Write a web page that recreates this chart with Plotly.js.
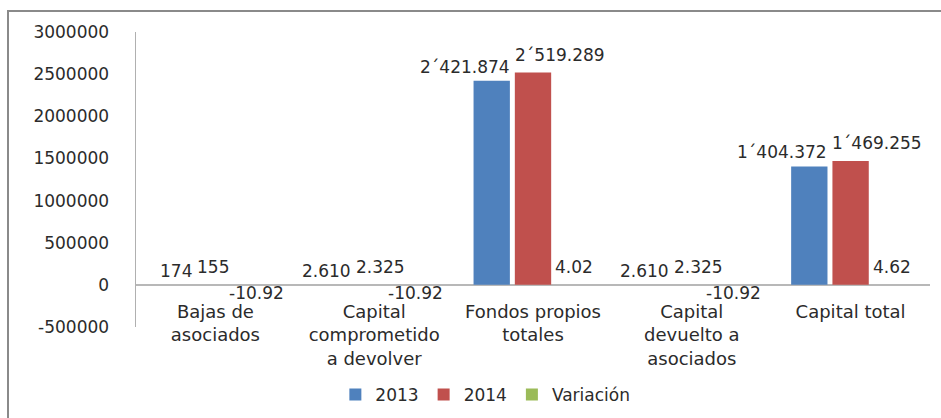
<!DOCTYPE html>
<html>
<head>
<meta charset="utf-8">
<script src="https://cdn.plot.ly/plotly-3.0.1.min.js"></script>
<style>
  html, body { margin: 0; padding: 0; background: #fff; }
  #wrap { position: relative; width: 941px; height: 418px; }
  #chart { width: 941px; height: 418px; }
  #frame { position: absolute; left: 7px; top: 10px; right: 0; bottom: -4px;
           border-left: 2px solid #8a8a8a; border-top: 2px solid #8a8a8a; pointer-events: none; }
</style>
</head>
<body>
<div id="wrap">
  <div id="chart"></div>
  <div id="frame"></div>
</div>
<script>
const categories = [
  "Bajas de<br>asociados",
  "Capital<br>comprometido<br>a devolver",
  "Fondos propios<br>totales",
  "Capital<br>devuelto a<br>asociados",
  "Capital total"
];
const values2013 = [174, 2610, 2421874, 2610, 1404372];
const values2014 = [155, 2325, 2519289, 2325, 1469255];
const valuesVar  = [-10.92, -10.92, 4.02, -10.92, 4.62];
const labels2013 = ["174", "2.610", "2´421.874", "2.610", "1´404.372"];
const labels2014 = ["155", "2.325", "2´519.289", "2.325", "1´469.255"];
const labelsVar  = ["-10.92", "-10.92", "4.02", "-10.92", "4.62"];
const yTickVals = [-500000, 0, 500000, 1000000, 1500000, 2000000, 2500000, 3000000];
const yTickText = ["-500000", "0", "500000", "1000000", "1500000", "2000000", "2500000", "3000000"];
const yRange = [-500000, 3000000];

const FONT = "DejaVu Sans, Verdana, sans-serif";
const TXT = "#2b2b2b";
const BARGAP = 0.22;
const BARGROUPGAP = 0.12;
const ML = 136, MR = 11;

function series(name, y, color) {
  return {
    type: "bar", name: name, x: categories, y: y,
    textposition: "none", cliponaxis: false,
    marker: { color: color, line: { width: 0 } },
    hoverinfo: "name+y"
  };
}

const data = [
  series("2013", values2013, "#4F81BD"),
  series("2014", values2014, "#C0504D"),
  series("Variación", valuesVar, "#9BBB59")
];

const zeroPos = (0 - yRange[0]) / (yRange[1] - yRange[0]);

// geometry of a bar group (derived from the layout gaps) used to place data labels like Excel does
const plotW = 941 - ML - MR;
const slot = (plotW / categories.length) * (1 - BARGAP) / 3;
const halfBar = slot * (1 - BARGROUPGAP) / 2;

function labelSet(values, labels, offset, anchor, upShift) {
  return values.map((v, i) => ({
    x: categories[i], y: v, xref: "x", yref: "y",
    text: labels[i], showarrow: false,
    xshift: offset, xanchor: anchor,
    yshift: v < 0 ? 4 : upShift,
    yanchor: v < 0 ? "top" : "bottom",
    font: { family: FONT, size: 17, color: TXT }
  }));
}

const annotations = [].concat(
  labelSet(values2013, labels2013, -slot + halfBar + 2, "right", 2),
  labelSet(values2014, labels2014, -halfBar - 2, "left", 6),
  labelSet(valuesVar, labelsVar, slot, "center", 6)
);

const layout = {
  width: 941, height: 418,
  margin: { l: ML, r: MR, t: 32, b: 91, autoexpand: false },
  paper_bgcolor: "#ffffff", plot_bgcolor: "#ffffff",
  font: { family: FONT, color: TXT, size: 16 },
  barmode: "group", bargap: BARGAP, bargroupgap: BARGROUPGAP,
  showlegend: true,
  legend: { orientation: "h", x: 0.44, xanchor: "center", y: -0.23, yanchor: "middle",
            font: { family: FONT, size: 17, color: TXT }, itemwidth: 30, traceorder: "normal" },
  annotations: annotations,
  xaxis: {
    anchor: "free", position: zeroPos,
    showline: false, showgrid: false, zeroline: false, ticks: "",
    tickfont: { family: FONT, size: 18, color: TXT },
    ticklabelstandoff: 14, automargin: false
  },
  yaxis: {
    range: yRange, tickvals: yTickVals, ticktext: yTickText,
    showgrid: false, showline: true, linecolor: "#b0b0b0", linewidth: 1.5,
    zeroline: true, zerolinecolor: "#b8b8b8", zerolinewidth: 1.5,
    ticks: "", tickfont: { family: FONT, size: 17, color: TXT },
    ticklabelstandoff: 22, automargin: false
  }
};

Plotly.newPlot("chart", data, layout, { displayModeBar: false, staticPlot: true });
</script>
</body>
</html>
